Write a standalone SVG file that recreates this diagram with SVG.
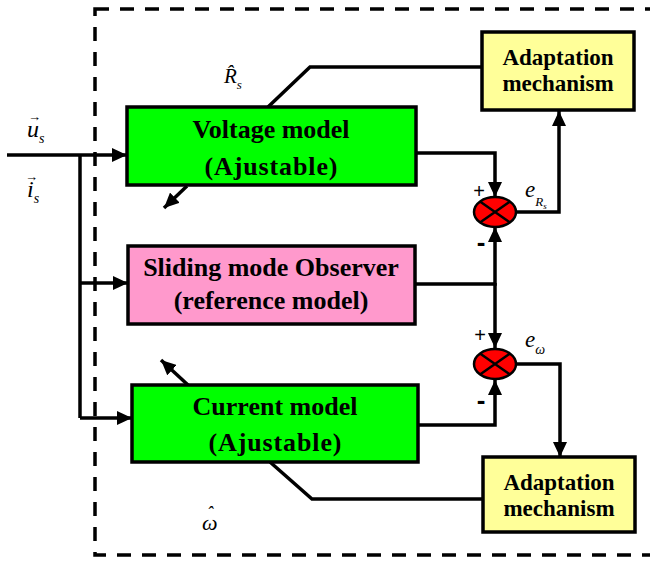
<svg xmlns="http://www.w3.org/2000/svg" width="650" height="561" viewBox="0 0 650 561">
<defs>
<marker id="ah" markerUnits="userSpaceOnUse" markerWidth="16" markerHeight="14" refX="15" refY="7" orient="auto">
<path d="M0,0 L15,7 L0,14 Z" fill="#000"/>
</marker>
<style>
.box{stroke:#000;stroke-width:3.5}
.ln{fill:none;stroke:#000;stroke-width:3.5}
.bt{font-family:"Liberation Serif","Times New Roman",serif;font-weight:bold;font-size:26px;text-anchor:middle;fill:#000}
.at{font-family:"Liberation Serif","Times New Roman",serif;font-weight:bold;font-size:23px;text-anchor:middle;fill:#000}
.it{font-family:"Liberation Serif","Times New Roman",serif;font-style:italic;fill:#000}
.sg{font-family:"Liberation Sans",Arial,sans-serif;fill:#000}
</style>
</defs>
<rect x="95" y="9" width="570" height="546" fill="none" stroke="#000" stroke-width="3.5" stroke-dasharray="14,11"/>

<g id="connectors">
<path class="ln" d="M7,155 H127" marker-end="url(#ah)"/>
<path class="ln" d="M80,155 V418"/>
<path class="ln" d="M80,283 H128" marker-end="url(#ah)"/>
<path class="ln" d="M80,418 H132" marker-end="url(#ah)"/>
<path class="ln" d="M416,153 H495 V197" marker-end="url(#ah)"/>
<path class="ln" d="M415,284 H495 V227" marker-end="url(#ah)"/>
<path class="ln" d="M495,283 V348" marker-end="url(#ah)"/>
<path class="ln" d="M418,425 H495 V380" marker-end="url(#ah)"/>
<path class="ln" d="M517,212 H559 V111" marker-end="url(#ah)"/>
<path class="ln" d="M517,364 H560 V457" marker-end="url(#ah)"/>
<path class="ln" d="M482,67 H310 L268,107"/>
<path class="ln" d="M483,499 H312 L270,462"/>
<path class="ln" d="M187,186 L164,208" marker-end="url(#ah)"/>
<path class="ln" d="M188,385 L161,360" marker-end="url(#ah)"/>
</g>

<g id="voltage-model">
<rect class="box" x="127" y="107" width="289" height="78" fill="#00FF00"/>
<text class="bt" x="271" y="138">Voltage model</text>
<text class="bt" x="271" y="175" textLength="133" lengthAdjust="spacing">(Ajustable)</text>
</g>
<g id="sliding-observer">
<rect class="box" x="128" y="246" width="287" height="78" fill="#FF99CC"/>
<text class="bt" x="271" y="276">Sliding mode Observer</text>
<text class="bt" x="271" y="309">(reference model)</text>
</g>
<g id="current-model">
<rect class="box" x="132" y="385" width="286" height="77" fill="#00FF00"/>
<text class="bt" x="275" y="415">Current model</text>
<text class="bt" x="275" y="451" textLength="133" lengthAdjust="spacing">(Ajustable)</text>
</g>
<g id="adapt-top">
<rect class="box" x="482" y="32" width="152" height="78" fill="#FFFF99"/>
<text class="at" x="558" y="65">Adaptation</text>
<text class="at" x="558" y="91">mechanism</text>
</g>
<g id="adapt-bottom">
<rect class="box" x="483" y="457" width="152" height="75" fill="#FFFF99"/>
<text class="at" x="559" y="490">Adaptation</text>
<text class="at" x="559" y="516">mechanism</text>
</g>
<g id="sum-top">
<ellipse cx="495" cy="212" rx="21" ry="15" fill="#FF0000" stroke="#000" stroke-width="2.5"/>
<path d="M480,201.5 L510,222.5 M510,201.5 L480,222.5" stroke="#000" stroke-width="2.5"/>
</g>
<g id="sum-bottom">
<ellipse cx="495" cy="364" rx="21" ry="15" fill="#FF0000" stroke="#000" stroke-width="2.5"/>
<path d="M480,353.5 L510,374.5 M510,353.5 L480,374.5" stroke="#000" stroke-width="2.5"/>
</g>

<g id="labels">
<text class="sg" x="479" y="198" font-size="20" text-anchor="middle">+</text>
<text class="sg" x="481" y="251" font-size="26" font-weight="bold" text-anchor="middle">-</text>
<text class="sg" x="480" y="342" font-size="20" text-anchor="middle">+</text>
<text class="sg" x="481" y="409" font-size="26" font-weight="bold" text-anchor="middle">-</text>
<text class="it" x="525" y="197" font-size="23">e<tspan font-size="13" dy="9">R</tspan><tspan font-size="9" dy="3">s</tspan></text>
<text class="it" x="525" y="347" font-size="23">e<tspan font-size="14" dy="7">ω</tspan></text>
<text class="it" x="224" y="83" font-size="21">R̂<tspan font-size="13" dy="6">s</tspan></text>
<text class="it" x="202" y="530" font-size="22">ω</text>
<text class="it" x="207" y="519" font-size="18">ˆ</text>
<text class="it" x="27" y="137" font-size="24">u<tspan font-size="14" dy="6">s</tspan></text>
<text class="sg" x="28" y="121" font-size="13">→</text>
<text class="it" x="27" y="197" font-size="24">i<tspan font-size="14" dy="6">s</tspan></text>
<text class="sg" x="25" y="181" font-size="13">→</text>
</g>
</svg>
